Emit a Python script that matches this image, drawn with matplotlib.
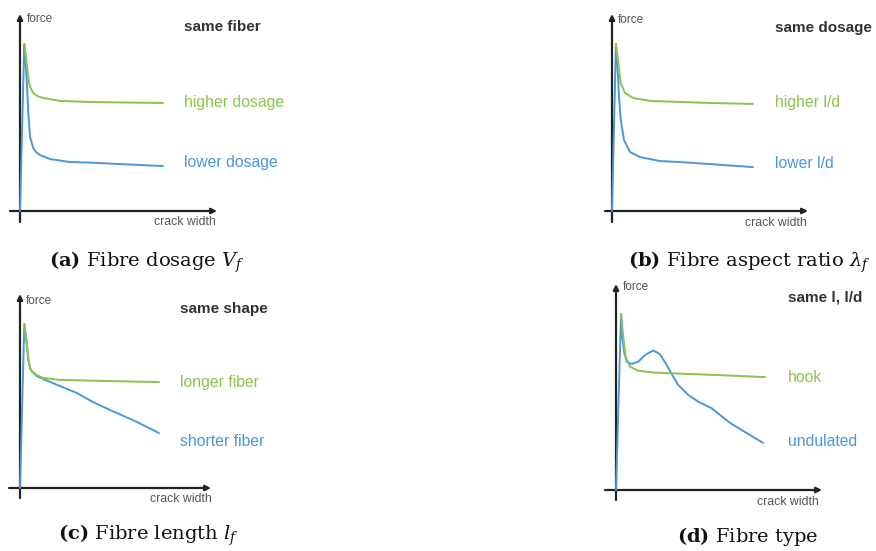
import matplotlib
matplotlib.use("Agg")
import matplotlib.pyplot as plt

# ---------------- data (crack width normalised to curve end, force normalised to peak) -------------
# (a) fibre dosage
a_green_x = [.030, .038, .047, .056, .063, .077, .093, .119, .161, .280, .490, .699, 1.0]
a_green_y = [1.0, .946, .886, .814, .766, .731, .707, .689, .677, .659, .653, .650, .647]
a_blue_x = [0, .030, .038, .047, .058, .070, .093, .112, .140, .210, .350, .490, .699, 1.0]
a_blue_y = [0, 1.0, .904, .784, .587, .443, .377, .353, .335, .311, .293, .290, .281, .269]
# (b) aspect ratio
b_green_x = [.028, .045, .062, .092, .149, .270, .482, .695, 1.0]
b_green_y = [1.0, .886, .766, .707, .677, .659, .653, .647, .641]
b_blue_x = [0, .028, .038, .050, .062, .085, .128, .199, .340, .482, .695, 1.0]
b_blue_y = [0, 1.0, .886, .683, .545, .425, .353, .323, .299, .293, .281, .263]
# (c) fibre length
c_green_x = [.031, .048, .060, .077, .120, .165, .288, .647, 1.0]
c_green_y = [.994, .879, .776, .715, .685, .667, .655, .648, .642]
c_blue_x = [0, .031, .048, .060, .077, .120, .165, .288, .408, .525, .647, .827, 1.0]
c_blue_y = [0, .994, .879, .776, .715, .679, .661, .618, .576, .521, .473, .406, .333]
# (d) fibre type
d_green_x = [.034, .049, .065, .094, .148, .262, .374, .664, 1.0]
d_green_y = [.994, .866, .753, .697, .674, .663, .659, .650, .638]
d_blue_x = [0, .034, .042, .056, .072, .105, .150, .195, .250, .295, .340, .374, .418, .485,
            .552, .642, .765, .987]
d_blue_y = [0, .994, .866, .774, .725, .712, .725, .763, .788, .768, .706, .655, .593, .537,
            .499, .462, .379, .266]

titles = ["same fiber", "same dosage", "same shape", "same l, l/d"]
green_labels = ["higher dosage", "higher l/d", "longer fiber", "hook"]
blue_labels = ["lower dosage", "lower l/d", "shorter fiber", "undulated"]
captions = [r"$\mathbf{(a)}$ Fibre dosage $V_f$",
            r"$\mathbf{(b)}$ Fibre aspect ratio $\lambda_f$",
            r"$\mathbf{(c)}$ Fibre length $l_f$",
            r"$\mathbf{(d)}$ Fibre type"]

GREEN = "#8cc34e"
BLUE = "#4a97d9"
AXC = "#222222"
GRAY = "#555555"
TXT = "#333333"

plt.rcParams['mathtext.fontset'] = 'dejavuserif'

W, H = 876, 551
fig = plt.figure(figsize=(W / 100, H / 100), dpi=100)
fig.patch.set_facecolor("white")


def ftext(x, y, s, **kw):
    fig.text(x / W, 1 - y / H, s, **kw)


def panel(ox, oy, sx, sy, xl, xr, yt, yb):
    left, right, top, bottom = ox - 16, ox + 220, oy - 215, oy + 16
    ax = fig.add_axes([left / W, 1 - bottom / H, (right - left) / W, (bottom - top) / H])
    ax.set_xlim((left - ox) / sx, (right - ox) / sx)
    ax.set_ylim((oy - bottom) / sy, (oy - top) / sy)
    ax.axis('off')
    ap = dict(arrowstyle='-|>', lw=1.6, color=AXC, shrinkA=0, shrinkB=0, mutation_scale=8)
    ax.annotate('', xy=((xr - ox) / sx, 0), xytext=((xl - ox) / sx, 0), arrowprops=ap)
    ax.annotate('', xy=(0, (oy - yt) / sy), xytext=(0, (oy - yb) / sy), arrowprops=ap)
    return ax


# panel geometry: origin px, x scale, y scale, axis extents
geoms = [
    (20, 211, 143, 167, 10, 217, 14, 222),
    (612, 211, 141, 167, 605, 808, 14, 222),
    (20, 488, 139, 165, 9, 211, 294, 498),
    (616, 490, 149, 177, 605, 822, 284, 500),
]
series = [
    (a_green_x, a_green_y, a_blue_x, a_blue_y),
    (b_green_x, b_green_y, b_blue_x, b_blue_y),
    (c_green_x, c_green_y, c_blue_x, c_blue_y),
    (d_green_x, d_green_y, d_blue_x, d_blue_y),
]

for g, s in zip(geoms, series):
    ax = panel(*g)
    gx, gy, bx, by = s
    ax.plot(bx, by, color=BLUE, lw=1.4, solid_joinstyle='round', solid_capstyle='round',
            clip_on=False, zorder=3)
    ax.plot(gx, gy, color=GREEN, lw=1.4, solid_joinstyle='round', solid_capstyle='round',
            clip_on=False, zorder=4)

# text positions (px)
force_pos = [(27, 19), (618, 20), (26, 301), (623, 287)]
crack_pos = [(154, 222), (745, 223), (150, 499), (757, 502)]
title_pos = [(184, 27), (775, 28), (180, 309), (788, 297)]
glab_pos = [(184, 103), (775, 103), (180, 383), (788, 377)]
blab_pos = [(184, 163), (775, 164), (180, 442), (788, 441)]
cap_pos = [(147, 262), (749, 262), (148, 535), (748, 537)]

for i in range(4):
    ftext(*force_pos[i], "force", fontsize=8.5, color=GRAY, family="Liberation Sans", va='center')
    ftext(*crack_pos[i], "crack width", fontsize=8.8, color=GRAY, family="Liberation Sans", va='center')
    ftext(*title_pos[i], titles[i], fontsize=11, color=TXT, family="Liberation Sans",
          weight='bold', va='center')
    ftext(*glab_pos[i], green_labels[i], fontsize=11.3, color=GREEN, family="Liberation Sans", va='center')
    ftext(*blab_pos[i], blue_labels[i], fontsize=11.3, color=BLUE, family="Liberation Sans", va='center')
    ftext(*cap_pos[i], captions[i], fontsize=14, color="#111111", family="DejaVu Serif",
          va='center', ha='center')

fig.savefig("out.png", dpi=100)
